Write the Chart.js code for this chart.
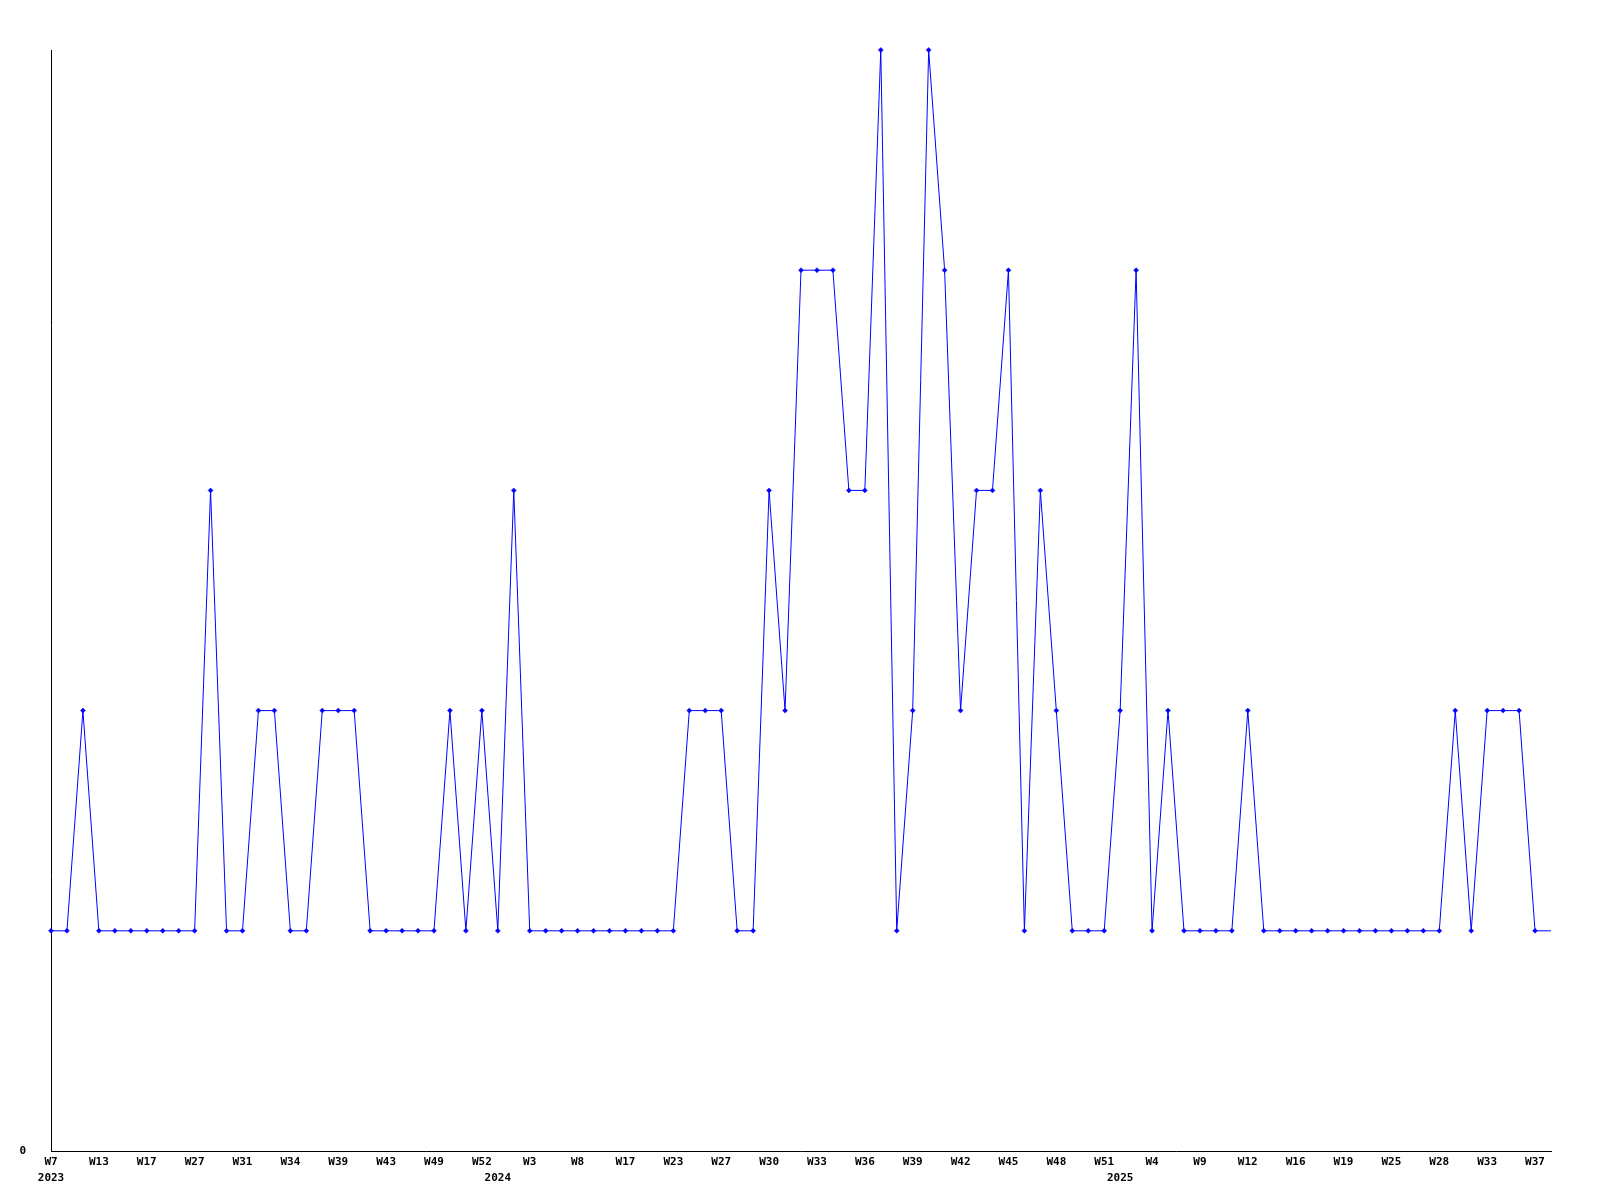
<!DOCTYPE html>
<html>
<head>
<meta charset="utf-8">
<script src="https://cdn.jsdelivr.net/npm/chart.js@4/dist/chart.umd.min.js"></script>
<style>
  html, body { margin: 0; padding: 0; background: #ffffff; }
  #wrap { width: 1600px; height: 1200px; }
</style>
</head>
<body>
<div id="wrap"><canvas id="c" width="1600" height="1200"></canvas></div>
<script>
// ---- data ----
const weeks = [
  'W7','W9','W11','W13','W14','W15','W17','W20','W24','W27',
  'W28','W29','W31','W32','W33','W34','W36','W37','W39','W40',
  'W41','W43','W45','W47','W49','W50','W51','W52','W1','W2',
  'W3','W5','W6','W8','W11','W14','W17','W19','W21','W23',
  'W24','W25','W27','W28','W29','W30','W31','W32','W33','W34',
  'W35','W36','W37','W38','W39','W40','W41','W42','W43','W44',
  'W45','W46','W47','W48','W49','W50','W51','W1','W3','W4',
  'W6','W7','W9','W10','W11','W12','W13','W14','W16','W17',
  'W18','W19','W21','W23','W25','W26','W27','W28','W30','W31',
  'W33','W34','W36','W37','W38'
];
const values = [
  1,1,2,1,1,1,1,1,1,1,
  3,1,1,2,2,1,1,2,2,2,
  1,1,1,1,1,2,1,2,1,3,
  1,1,1,1,1,1,1,1,1,1,
  2,2,2,1,1,3,2,4,4,4,
  3,3,5,1,2,5,4,2,3,3,
  4,1,3,2,1,1,1,2,4,1,
  2,1,1,1,1,2,1,1,1,1,
  1,1,1,1,1,1,1,1,2,1,
  2,2,2,1,1
];
const yearStartIndex = [0, 28, 67];
const yearNames = ['2023', '2024', '2025'];
const labelEvery = 3;
const yMin = 0;
const yMax = 5;

// ---- chart ----
const tickFont = { family: 'DejaVu Sans Mono', size: 11, weight: 'bold', lineHeight: '16px' };
const lastIndex = values.length - 1;

new Chart(document.getElementById('c'), {
  type: 'line',
  data: {
    labels: weeks,
    datasets: [{
      data: values,
      borderColor: '#0000ff',
      backgroundColor: '#0000ff',
      borderWidth: 1,
      tension: 0,
      fill: false,
      clip: false,
      pointStyle: 'rectRot',
      pointRadius: (ctx) => ctx.dataIndex === lastIndex ? 0 : 2.5,
      pointBorderWidth: 0.5,
      pointBorderColor: '#0000ff',
      pointBackgroundColor: '#0000ff'
    }]
  },
  options: {
    responsive: false,
    animation: false,
    devicePixelRatio: 1,
    layout: { padding: { top: 50, right: 49, left: 0, bottom: 0 } },
    plugins: {
      legend: { display: false },
      tooltip: { enabled: false },
      title: { display: false }
    },
    scales: {
      x: {
        type: 'category',
        offset: false,
        grid: { display: false, drawTicks: false },
        border: { display: true, color: '#000000', width: 1 },
        afterFit: (scale) => { scale.height = 49; },
        ticks: {
          autoSkip: false,
          maxRotation: 0,
          minRotation: 0,
          padding: 3,
          color: '#000000',
          font: tickFont,
          callback: function (value, index) {
            const w = index % labelEvery === 0 ? weeks[index] : '';
            const yi = yearStartIndex.indexOf(index);
            if (yi >= 0) return [w, yearNames[yi]];
            return w === '' ? null : w;
          }
        }
      },
      y: {
        min: yMin,
        max: yMax,
        grid: { display: false, drawTicks: false },
        border: { display: true, color: '#000000', width: 1 },
        afterFit: (scale) => { scale.width = 51; },
        ticks: {
          stepSize: 1,
          padding: 25,
          color: '#000000',
          font: tickFont,
          callback: (v) => v === 0 ? '0' : null
        }
      }
    }
  }
});
</script>
</body>
</html>
